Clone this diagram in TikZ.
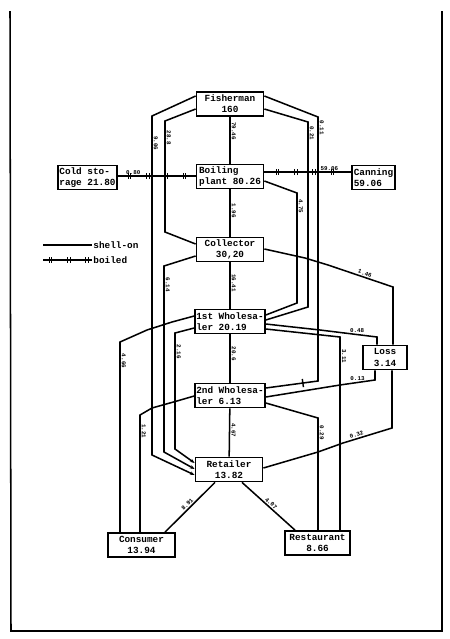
\documentclass[tikz,border=0pt]{standalone}
\usepackage{fontspec}
\setmonofont{Liberation Mono}
\usetikzlibrary{decorations.markings,arrows.meta}
\tikzstyle{stage}=[
        draw,
        line width = 1.5pt,
        fill = white,
        minimum width = 2.01cm,
        minimum height = 0.72cm,
        inner sep = 1pt,
        align = center,
        font = \ttfamily\bfseries\fontsize{8}{9.5}\selectfont
    ]
\tikzstyle{small stage}=[
    stage,
    minimum width = 1.35cm,
    align = left
]
\tikzstyle{flow}=[
    line width = 1.3pt
]
\tikzstyle{boiled}=[
    flow,
    postaction = {decorate, decoration = {markings,
        mark = between positions 0.15 and 0.95 step 0.55cm with
        {\draw[line width = 0.9pt] (-1pt,-2.5pt) -- (-1pt,2.5pt) (1.2pt,-2.5pt) -- (1.2pt,2.5pt);}}}
]
\tikzstyle{amount}=[
    font = \ttfamily\bfseries\fontsize{5}{6}\selectfont,
    inner sep = 1pt
]

\begin{document}
\begin{tikzpicture}[x=0.03cm, y=-0.03cm, >={Stealth[length=4pt,width=3pt]}, vert/.style = {amount, rotate=-90, anchor=south}]
        \useasboundingbox (0,0) rectangle (450,639);
        % page frame
        \draw[line width=1.3pt] (10,11) -- (11,631) -- (442,631) -- (442,11);

        \node[stage] (fisher) at (230,104) {Fisherman\\160};
        \node[stage, align=left] (boil) at (230,176.5) {Boiling\\plant 80.26};
        \node[small stage] (cold) at (87.5,177.5) {Cold sto-\\rage 21.80};
        \node[small stage, minimum width=1.29cm] (can) at (373.5,177.5) {Canning\\59.06};
        \node[stage] (coll) at (230,249.5) {Collector\\30,20};
        \node[stage, align=left] (wh1) at (230,321.5) {1st Wholesa-\\ler 20.19};
        \node[small stage, align=center, minimum width=1.32cm] (loss) at (385,357.5) {Loss\\3.14};
        \node[stage, align=left] (wh2) at (230,395.5) {2nd Wholesa-\\ler 6.13};
        \node[stage] (retail) at (229,469.5) {Retailer\\13.82};
        \node[stage] (cons) at (141.5,545) {Consumer\\13.94};
        \node[stage, minimum width=1.95cm] (rest) at (317.5,543) {Restaurant\\8.66};

        % legend
        \node[amount, font=\ttfamily\bfseries\fontsize{8}{9}\selectfont, anchor=west] (shell) at (92,245) {shell-on};
        \node[amount, font=\ttfamily\bfseries\fontsize{8}{9}\selectfont, anchor=west] (boiledkey) at (92,260) {boiled};
        \coordinate (k1) at (43,245);
        \coordinate (k2) at (43,260);
        \draw[flow] (k1) -- (shell.west);
        \draw[boiled] (k2) -- (boiledkey.west);

        % main column
        \draw[flow] (fisher) -- node[vert, pos=0.3] {79.46} (boil);
        \draw[flow] (boil) -- node[vert, pos=0.45] {1.96} (coll);
        \draw[flow] (coll) -- node[vert, pos=0.45] {16.41} (wh1);
        \draw[flow] (wh1) -- node[vert, pos=0.4] {20.6} (wh2);
        \draw[flow] (wh2) -- node[vert, pos=0.45] {4.67} (retail);

        % left side
        \draw[flow, ->] (fisher.west |- 0,96) -- (152,116) -- node[vert, pos=0.08] {9.06} (152,455) -- (retail.west |- 0,475);
        \draw[flow] (fisher.west |- 0,109) -- (165,121) -- node[vert, pos=0.15] {28.8} (165,232) -- (coll.west |- 0,244);
        \draw[flow, ->] (coll.west |- 0,256) -- (164,266) -- node[vert, pos=0.1] {6.14} (164,452) -- (retail.west |- 0,469);
        \draw[flow, ->] (wh1.west |- 0,328) -- (175,333) -- node[vert, pos=0.16] {2.16} (175,449) -- (retail.west |- 0,463);
        \draw[flow] (wh1.west |- 0,316) -- (172,322) -- (147,330) -- (120,342) -- node[vert, pos=0.1] {4.66} (cons.north -| 120,0);
        \draw[flow] (wh2.west |- 0,396) -- (177,401) -- (152,408) -- (140,415) -- node[vert, pos=0.14] {1.21} (cons.north -| 140,0);

        % right side
        \draw[flow] (boil.east |- 0,181) -- (297,193) -- node[vert, pos=0.12] {4.75} (297,303) -- (wh1.east |- 0,315);
        \draw[flow] (fisher.east |- 0,109) -- (308,122) -- node[vert, pos=0.06] {0.21} (308,307) -- (wh1.east |- 0,320);
        \draw[flow] (fisher.east |- 0,96) -- (318,117) -- node[vert, pos=0.04] {0.11} (318,381) -- node[pos=0.29, fill, inner sep=0, minimum width=1.2pt, minimum height=7pt, sloped] {} (wh2.east |- 0,388);
        \draw[flow] (coll.east |- 0,249) -- (305,258) -- (328,265) -- node[amount, sloped, above, pos=0.55] {1.46} (393,287) -- (loss.north -| 393,0);
        \draw[flow] (wh1.east |- 0,324) -- (320,330) -- node[amount, above, pos=0.65] {0.48} (377,337) -- (loss.north -| 377,0);
        \draw[flow] (wh1.east |- 0,329) -- (340,337) -- node[vert, pos=0.1] {3.11} (rest.north -| 340,0);
        \draw[flow] (wh2.east |- 0,397) -- (340,385) -- node[amount, above, pos=0.5] {0.13} (375,380) -- (loss.south -| 375,0);
        \draw[flow] (wh2.east |- 0,403) -- (318,418) -- node[vert, pos=0.13] {0.29} (rest.north -| 318,0);
        \draw[flow] (retail.east |- 0,468) -- (318,452) -- (343,443) -- node[amount, sloped, above, pos=0.3] {0.32} (392,428) -- (loss.south -| 392,0);

        % bottom
        \draw[flow] (retail.south -| 215,0) -- node[amount, sloped, above] {8.91} (cons.north -| 165,0);
        \draw[flow] (retail.south -| 242,0) -- node[amount, sloped, above] {4.07} (rest.north -| 295,0);

        % boiled flows
        \draw[boiled] (cold.east |- 0,176) -- node[amount, above, pos=0.2] {0.80} (boil.west |- 0,176);
        \draw[boiled] (boil.east |- 0,172) -- node[amount, above, pos=0.75] {59.06} (can.west |- 0,172);

    \end{tikzpicture}
\end{document}
